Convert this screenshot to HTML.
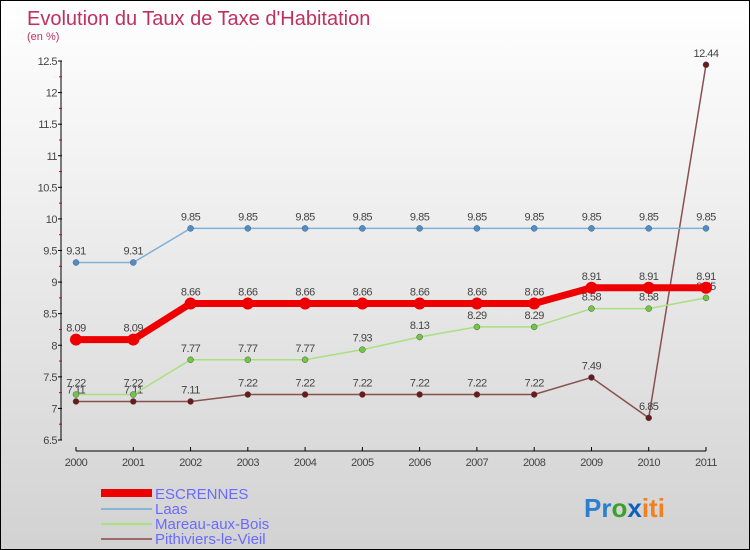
<!DOCTYPE html>
<html><head><meta charset="utf-8"><style>
body{margin:0}
#c{width:748px;height:548px;border:1px solid #000;background:linear-gradient(#fff,#f2f2f2 30%,#d2d2d2);position:relative;font-family:"Liberation Sans",sans-serif;overflow:hidden}
</style></head><body>
<div id="c">
<svg id="s" width="748" height="548">
<text x="26" y="24" font-size="20" fill="#c0305f">Evolution du Taux de Taxe d'Habitation</text>
<text x="26" y="39" font-size="11" fill="#c0305f">(en %)</text>
<g id="ax"></g><g id="lines"></g>
<g>
<rect x="100" y="488" width="51" height="8" fill="#e00"/>
<text x="154" y="498" font-size="15" fill="#6a6aff">ESCRENNES</text>
<line x1="100" y1="508" x2="151" y2="508" stroke="#8ab4d8" stroke-width="2"/>
<text x="154" y="513" font-size="15" fill="#6a6aff">Laas</text>
<line x1="100" y1="523" x2="151" y2="523" stroke="#a8e080" stroke-width="2"/>
<text x="154" y="528" font-size="15" fill="#6a6aff">Mareau-aux-Bois</text>
<line x1="100" y1="538" x2="151" y2="538" stroke="#9a6a6a" stroke-width="2"/>
<text x="154" y="543" font-size="15" fill="#6a6aff">Pithiviers-le-Vieil</text>
</g>
<text x="583" y="516" font-size="26" font-weight="bold"><tspan fill="#2a7fd0">Pr</tspan><tspan fill="#3aa030">o</tspan><tspan fill="#1060c0">x</tspan><tspan fill="#f08020">iti</tspan></text>
</svg></div>
<script>
const years=["2000","2001","2002","2003","2004","2005","2006","2007","2008","2009","2010","2011"];
const yTicks=[6.5,7,7.5,8,8.5,9,9.5,10,10.5,11,11.5,12,12.5];
const escrennes=[8.09,8.09,8.66,8.66,8.66,8.66,8.66,8.66,8.66,8.91,8.91,8.91];
const laas=[9.31,9.31,9.85,9.85,9.85,9.85,9.85,9.85,9.85,9.85,9.85,9.85];
const mareau=[7.22,7.22,7.77,7.77,7.77,7.93,8.13,8.29,8.29,8.58,8.58,8.75];
const pithiviers=[7.11,7.11,7.11,7.22,7.22,7.22,7.22,7.22,7.22,7.49,6.85,12.44];
const NS="http://www.w3.org/2000/svg";
const X=i=>75+i*(630/11), Y=v=>439-(v-6.5)*(379/6);
function mk(t,a,p){const e=document.createElementNS(NS,t);for(const k in a)e.setAttribute(k,a[k]);p.appendChild(e);return e;}
const ax=document.getElementById('ax'),L=document.getElementById('lines');
mk('line',{x1:60,y1:Y(12.5),x2:60,y2:Y(6.5),stroke:'#000'},ax);
yTicks.forEach((v,i)=>{mk('line',{x1:57,y1:Y(v),x2:61,y2:Y(v),stroke:'#000'},ax);
 if(i<yTicks.length-1)mk('line',{x1:58,y1:Y(v+0.25),x2:61,y2:Y(v+0.25),stroke:'#d00'},ax);
 const t=mk('text',{x:56,y:Y(v)+4,'font-size':11,fill:'#444','text-anchor':'end','letter-spacing':'-0.5'},ax);t.textContent=String(v);
 });
mk('line',{x1:75,y1:450,x2:705,y2:450,stroke:'#000'},ax);
years.forEach((y,i)=>{mk('line',{x1:X(i),y1:446,x2:X(i),y2:450,stroke:'#000'},ax);
 const t=mk('text',{x:X(i),y:465,'font-size':11,fill:'#444','text-anchor':'middle','letter-spacing':'-0.5'},ax);t.textContent=y;
 });
function series(d,col,dot,w,r,name){
 const g=mk('g',{},L);
 mk('polyline',{points:d.map((v,i)=>X(i)+','+Y(v)).join(' '),fill:'none',stroke:col,'stroke-width':w},g);
 d.forEach((v,i)=>{const c=mk('circle',{cx:X(i),cy:Y(v),r:r,fill:dot,stroke:w>3?'none':'#555','stroke-width':0.5},g);
  
  const t=mk('text',{x:X(i),y:Y(v)-8,'font-size':11,fill:'#444','text-anchor':'middle','letter-spacing':'-0.5'},g);t.textContent=String(v);});
}
series(pithiviers,'#8a5050','#6a1a1a',1.5,3,'pithiviers');
series(mareau,'#a8e080','#70c840',1.5,3,'mareau');
series(laas,'#80b0d8','#4a90d0',1.5,3,'laas');
series(escrennes,'#ee0000','#ee0000',7,6,'escrennes');
</script></body></html>
